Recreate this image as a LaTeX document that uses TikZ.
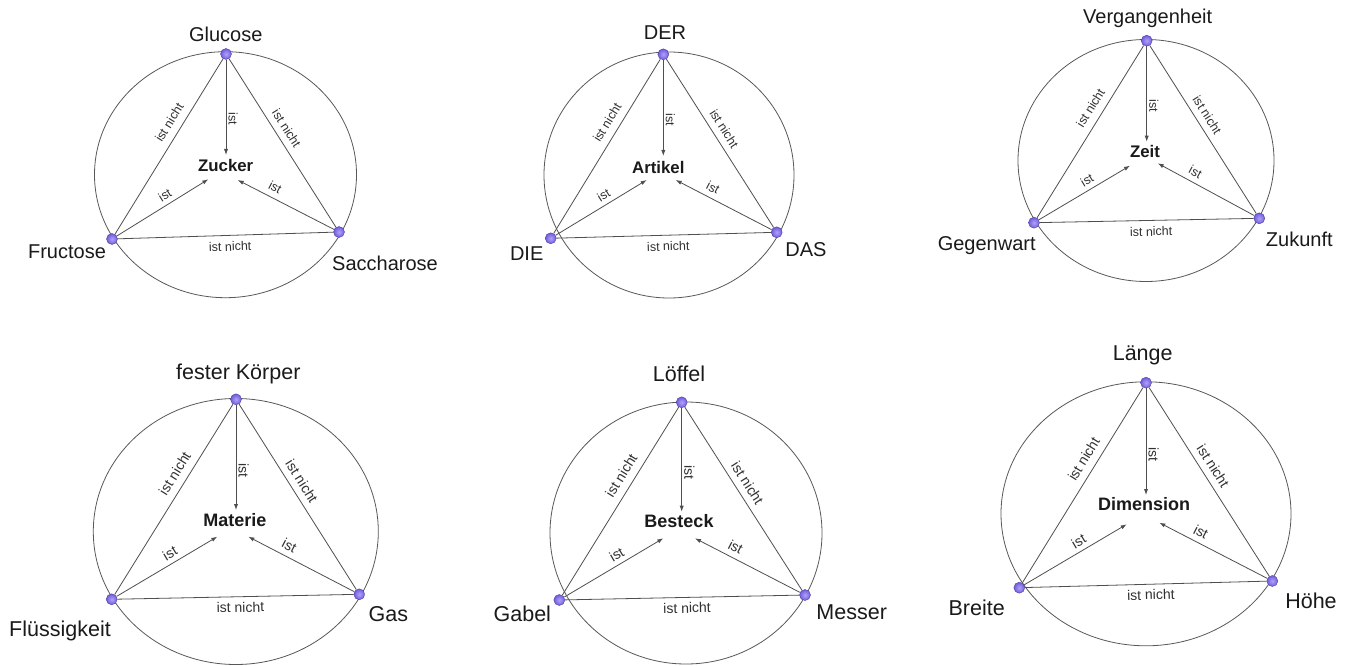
\documentclass[tikz,border=0pt]{standalone}
\usepackage{fontspec}
\setmainfont{Liberation Sans}
\usetikzlibrary{arrows.meta}

\definecolor{edgegray}{HTML}{4F4F4F}
\definecolor{ringgray}{HTML}{585858}
\definecolor{dotlight}{RGB}{176,162,250}
\definecolor{dotdeep}{RGB}{112,92,218}
\definecolor{dotrim}{RGB}{80,64,165}
\definecolor{inkc}{HTML}{1A1A1A}

\pgfdeclarelayer{bg}
\pgfsetlayers{bg,main}

\tikzset{
  ring/.style={draw=ringgray, line width=0.8pt},
  edge/.style={draw=edgegray, line width=0.8pt},
  isarrow/.style={edge, -{Latex[length=6pt,width=4.2pt]}},
  vertex/.style={circle, minimum size=11pt, inner sep=0pt, inner color=dotlight, outer color=dotdeep, draw=dotrim, line width=0.4pt},
  term/.style={text=inkc, inner sep=0pt, text height=0.72em, text depth=0pt},
  hub/.style={term, font=\bfseries},
  rel/.style={text=inkc!90, sloped, inner xsep=0pt, text height=0.72em, text depth=0pt},
  relabove/.style={rel, anchor=south, inner ysep=#1},
  relbelow/.style={rel, anchor=north, inner ysep=#1},
}

% edges of one triad: #1 prefix, #2 size of the relation labels
\newcommand\triadedges[2]{%
  \begin{pgfonlayer}{bg}
  \begin{scope}[every node/.append style={font=\fontsize{#2}{#2}\selectfont}]
    \draw[edge] (#1L) -- node[relabove=7.5pt, pos=0.6] {ist nicht} (#1T);
    \draw[edge] (#1T) -- node[relabove=6.5pt, pos=0.45] {ist nicht} (#1R);
    \draw[edge] (#1L) -- node[relbelow=8pt, pos=0.52] {ist nicht} (#1R);
    \draw[isarrow] (#1T) -- node[relabove=2.2pt, pos=0.62] {ist} (#1eT);
    \draw[isarrow] (#1L) -- node[relabove=4.5pt, pos=0.58] {ist} (#1eL);
    \draw[isarrow] (#1R) -- node[relabove=5.5pt, pos=0.66] {ist} (#1eR);
  \end{scope}
  \end{pgfonlayer}%
}

\begin{document}
\begin{tikzpicture}[x=1pt, y=-1pt]
\useasboundingbox (0,0) rectangle (1352,666);
\begin{pgfonlayer}{bg}
  \fill[white] (0,0) rectangle (1352,666);
\end{pgfonlayer}

% ---------- Zucker ----------
\draw[ring] (225.5,174.7) ellipse [x radius=131pt, y radius=123pt];
\node[vertex] (aT) at (226,54) {};
\node[vertex] (aL) at (112,239) {};
\node[vertex] (aR) at (339,232) {};
\coordinate (aeT) at (226,155);
\coordinate (aeL) at (208.3,179.3);
\coordinate (aeR) at (237.7,180);
\triadedges{a}{12.5}
\node[hub, font=\bfseries\fontsize{16.8}{16.8}\selectfont] (aC) at (225.7,167.7) {Zucker};
\node[term, font=\fontsize{20}{20}\selectfont] (aTn) at (225.7,38.3) {Glucose};
\node[term, font=\fontsize{20}{20}\selectfont] (aLn) at (67,254.5) {Fructose};
\node[term, font=\fontsize{20}{20}\selectfont] (aRn) at (385,267.3) {Saccharose};

% ---------- Artikel ----------
\draw[ring] (669,175) ellipse [x radius=125pt, y radius=123pt];
\node[vertex] (bT) at (663.3,54.3) {};
\node[vertex] (bL) at (550.7,238.3) {};
\node[vertex] (bR) at (776.7,232.3) {};
\coordinate (beT) at (663.3,156);
\coordinate (beL) at (646.7,180);
\coordinate (beR) at (675.7,180);
\triadedges{b}{12.5}
\node[hub, font=\bfseries\fontsize{16.8}{16.8}\selectfont] (bC) at (658.3,170) {Artikel};
\node[term, font=\fontsize{20}{20}\selectfont] (bTn) at (665,36) {DER};
\node[term, font=\fontsize{20}{20}\selectfont] (bLn) at (526.7,256.7) {DIE};
\node[term, font=\fontsize{20}{20}\selectfont] (bRn) at (806,253.3) {DAS};

% ---------- Zeit ----------
\draw[ring] (1146,160.5) ellipse [x radius=128pt, y radius=121pt];
\node[vertex] (cT) at (1146.7,40.7) {};
\node[vertex] (cL) at (1034,222.7) {};
\node[vertex] (cR) at (1259.3,218.3) {};
\coordinate (ceT) at (1146.7,141.7);
\coordinate (ceL) at (1130,165.7);
\coordinate (ceR) at (1157.7,163.3);
\triadedges{c}{12.5}
\node[hub, font=\bfseries\fontsize{16.8}{16.8}\selectfont] (cC) at (1145,154) {Zeit};
\node[term, font=\fontsize{20}{20}\selectfont] (cTn) at (1147.7,20) {Vergangenheit};
\node[term, font=\fontsize{20}{20}\selectfont] (cLn) at (986.7,246.7) {Gegenwart};
\node[term, font=\fontsize{20}{20}\selectfont] (cRn) at (1299.3,242.7) {Zukunft};

% ---------- Materie ----------
\draw[ring] (235.8,531.5) ellipse [x radius=142.5pt, y radius=133pt];
\node[vertex] (dT) at (236,399.3) {};
\node[vertex] (dL) at (111.7,599.3) {};
\node[vertex] (dR) at (359.3,594.3) {};
\coordinate (deT) at (236,510);
\coordinate (deL) at (217.3,536.7);
\coordinate (deR) at (248.3,536.7);
\triadedges{d}{14}
\node[hub, font=\bfseries\fontsize{18}{18}\selectfont] (dC) at (235,523.3) {Materie};
\node[term, font=\fontsize{21.5}{21.5}\selectfont] (dTn) at (238.3,376) {fester Körper};
\node[term, font=\fontsize{21.5}{21.5}\selectfont] (dLn) at (60,632.7) {Flüssigkeit};
\node[term, font=\fontsize{21.5}{21.5}\selectfont] (dRn) at (388.3,618.3) {Gas};

% ---------- Besteck ----------
\draw[ring] (686,533) ellipse [x radius=136pt, y radius=131pt];
\node[vertex] (eT) at (681.7,402.3) {};
\node[vertex] (eL) at (559.3,600) {};
\node[vertex] (eR) at (805,595) {};
\coordinate (eeT) at (681.7,511.7);
\coordinate (eeL) at (663.3,538.3);
\coordinate (eeR) at (695,538.3);
\triadedges{e}{14}
\node[hub, font=\bfseries\fontsize{18}{18}\selectfont] (eC) at (679,524.3) {Besteck};
\node[term, font=\fontsize{21.5}{21.5}\selectfont] (eTn) at (679,378.3) {Löffel};
\node[term, font=\fontsize{21.5}{21.5}\selectfont] (eLn) at (522.3,618.3) {Gabel};
\node[term, font=\fontsize{21.5}{21.5}\selectfont] (eRn) at (851.7,616) {Messer};

% ---------- Dimension ----------
\draw[ring] (1146,513.8) ellipse [x radius=145pt, y radius=132pt];
\node[vertex] (fT) at (1146,382.7) {};
\node[vertex] (fL) at (1019.3,587.7) {};
\node[vertex] (fR) at (1272.3,581) {};
\coordinate (feT) at (1146,495);
\coordinate (feL) at (1126.7,524.3);
\coordinate (feR) at (1159.3,522.7);
\triadedges{f}{14}
\node[hub, font=\bfseries\fontsize{18}{18}\selectfont] (fC) at (1144,506.7) {Dimension};
\node[term, font=\fontsize{21.5}{21.5}\selectfont] (fTn) at (1142.7,356.7) {Länge};
\node[term, font=\fontsize{21.5}{21.5}\selectfont] (fLn) at (976.7,611.7) {Breite};
\node[term, font=\fontsize{21.5}{21.5}\selectfont] (fRn) at (1311,605) {Höhe};
\end{tikzpicture}
\end{document}
